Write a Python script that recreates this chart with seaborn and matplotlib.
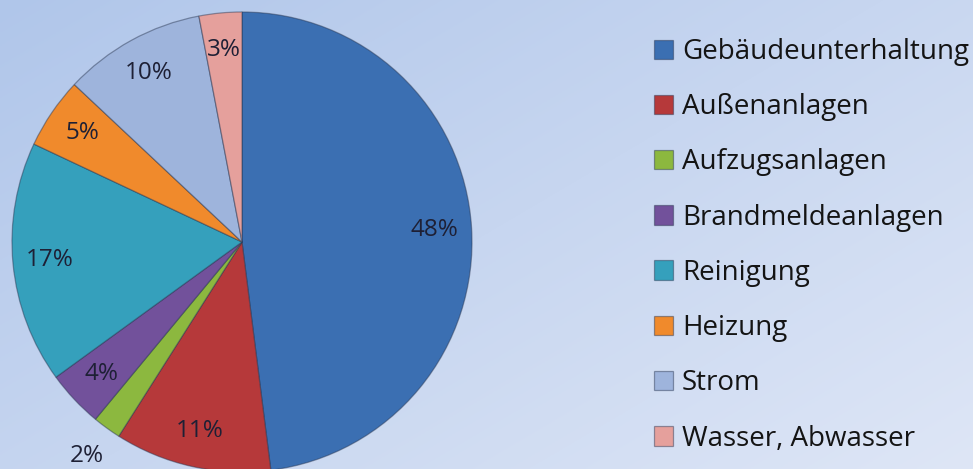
import numpy as np
import matplotlib
matplotlib.use("Agg")
import matplotlib.pyplot as plt
import seaborn as sns

categories = ["Gebäudeunterhaltung", "Außenanlagen", "Aufzugsanlagen", "Brandmeldeanlagen",
              "Reinigung", "Heizung", "Strom", "Wasser, Abwasser"]
values = [48, 11, 2, 4, 17, 5, 10, 3]
hex_colors = ["#3B6FB2", "#B6393A", "#8CB83F", "#72519B", "#35A0BC", "#F08A2C", "#9EB4DC", "#E5A09C"]

sns.set_style("white")
plt.rcParams['font.family'] = ['Open Sans', 'DejaVu Sans']
palette = sns.color_palette(hex_colors)

W, H = 973, 469
fig = plt.figure(figsize=(W / 100, H / 100), dpi=100)

# background gradient
bg = fig.add_axes([0, 0, 1, 1], zorder=0)
yy, xx = np.mgrid[0:1:200j, 0:1:400j]
t = (xx * 0.55 + yy * 0.45)
c0 = np.array([176, 198, 234]) / 255
c1 = np.array([222, 230, 246]) / 255
img = c0[None, None, :] * (1 - t[..., None]) + c1[None, None, :] * t[..., None]
bg.imshow(img, aspect='auto', extent=[0, 1, 0, 1], origin='upper')
bg.set_axis_off()

cx, cy, r = 242, 242, 230
ax = fig.add_axes([(cx - r) / W, (H - cy - r) / H, 2 * r / W, 2 * r / H], zorder=1)
ax.patch.set_alpha(0)

wedges, texts, autotexts = ax.pie(
    values, colors=palette, startangle=90, counterclock=False,
    autopct=lambda p: f"{p:.0f}%", pctdistance=0.84,
    wedgeprops=dict(edgecolor=(0.15, 0.2, 0.3, 0.45), linewidth=0.9),
    textprops=dict(fontsize=17.5, color="#1E2035"))
ax.set_xlim(-1, 1)
ax.set_ylim(-1, 1)

# the small 2% slice: label outside
for w, at, v in zip(wedges, autotexts, values):
    if v <= 2:
        ang = np.deg2rad((w.theta1 + w.theta2) / 2)
        at.set_position((1.15 * np.cos(ang), 1.15 * np.sin(ang)))
        at.set_clip_on(False)

leg = fig.legend(wedges, categories, loc="upper left", bbox_to_anchor=(654 / W, 1 - 38 / H),
                 frameon=False, fontsize=20, handlelength=0.7, handleheight=0.7,
                 handletextpad=0.3, labelspacing=0.98, borderaxespad=0, borderpad=0)
for txt in leg.get_texts():
    txt.set_color("#141414")

fig.savefig("out.png", dpi=100)
